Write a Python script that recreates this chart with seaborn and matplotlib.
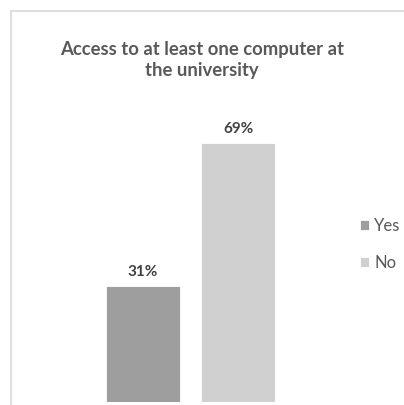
import matplotlib
matplotlib.use("Agg")
import matplotlib.pyplot as plt
from matplotlib.patches import Rectangle
import seaborn as sns
import pandas as pd

answers = ["Yes", "No"]
shares = [31, 69]
bar_colors = ["#9e9e9e", "#d0d0d0"]
title = "Access to at least one computer at\nthe university"

sns.set_theme(style="white")
plt.rcParams["font.family"] = ["Lato", "DejaVu Sans"]

W, H = 404, 405
fig = plt.figure(figsize=(W / 100, H / 100), dpi=100)
fig.patch.set_facecolor("white")

# chart frame (top and left edges visible)
fig.add_artist(Rectangle((11 / W, -0.1), 1.2, 1 - 11 / H + 0.1,
                         transform=fig.transFigure, fill=False,
                         edgecolor="#d9d9d9", linewidth=1.2))

ax_left, ax_right = 60, 320
ax_bottom, ax_top = 3, 285
ax = fig.add_axes([ax_left / W, ax_bottom / H,
                   (ax_right - ax_left) / W, (ax_top - ax_bottom) / H])

df = pd.DataFrame({"answer": answers, "share": shares})
sns.barplot(data=df, x="answer", y="share", hue="answer", order=answers,
            hue_order=answers, palette=bar_colors, width=0.78, dodge=False,
            edgecolor="white", linewidth=0.6, legend=True, ax=ax)

px_per_unit = 95
xmin = -(143 - ax_left) / px_per_unit
ax.set_xlim(xmin, xmin + (ax_right - ax_left) / px_per_unit)
ax.set_ylim(0, (ax_top - ax_bottom) / 3.754)
ax.axis("off")

for cont in ax.containers:
    ax.bar_label(cont, fmt="%.0f%%", padding=5, fontsize=11,
                 fontweight="bold", color="#404040")

fig.text(202 / W, 1 - 60 / H, title, ha="center", va="center",
         fontsize=13.3, fontweight="bold", color="#595959", linespacing=1.3)

leg = ax.legend(loc="upper left", bbox_to_anchor=(360 / W, 1 - 218 / H),
                bbox_transform=fig.transFigure, frameon=False, fontsize=12,
                handlelength=0.55, handleheight=0.55, handletextpad=0.3,
                labelspacing=1.25, labelcolor="#595959",
                borderpad=0, borderaxespad=0)

fig.savefig("out.png", dpi=100, facecolor="white")
